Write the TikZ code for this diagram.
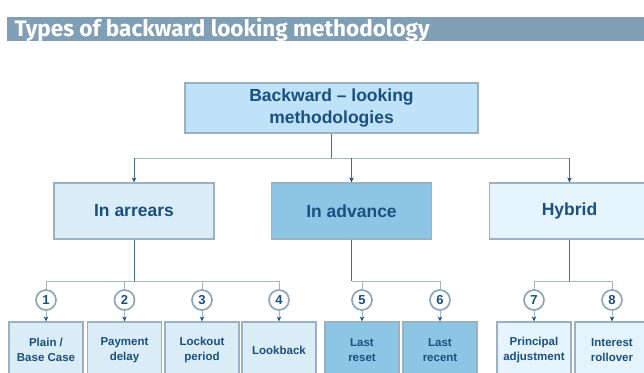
\documentclass[tikz,border=0pt]{standalone}
\usepackage{fontspec}
\setmainfont{Liberation Sans}
\newfontfamily\titlefont{Fira Sans}
\usetikzlibrary{arrows.meta,positioning}

\definecolor{bandgray}{HTML}{809FB4}
\definecolor{boxline}{HTML}{9BB0C1}
\definecolor{textblue}{HTML}{1B4F7E}
\definecolor{topfill}{HTML}{BEE3F8}
\definecolor{arrearsfill}{HTML}{DAEDF7}
\definecolor{advancefill}{HTML}{8DC5E5}
\definecolor{hybridfill}{HTML}{E5F4FC}
\definecolor{trunkline}{HTML}{4C6D8C}
\definecolor{busline}{HTML}{A3B5C4}
\definecolor{circline}{HTML}{8EA6B8}

\begin{document}
\begin{tikzpicture}[
    x = 1pt, y = -1pt,
    box/.style = {rectangle, draw=boxline, line width=1.3pt, text=textblue, align=center, inner sep=0pt},
    mainbox/.style = {box, minimum width=293pt, minimum height=50pt, fill=topfill, font=\fontsize{17.5}{22}\selectfont\bfseries},
    groupbox/.style = {box, minimum width=160pt, minimum height=56pt, font=\fontsize{17.5}{20}\selectfont\bfseries},
    leaf/.style = {box, minimum width=74pt, minimum height=56pt, font=\fontsize{11.5}{14.5}\selectfont\bfseries},
    num/.style = {circle, draw=circline, line width=1.7pt, fill=white, minimum size=20pt, inner sep=0pt, text=textblue, font=\fontsize{13}{13}\selectfont\bfseries},
    trunk/.style = {draw=trunkline, line width=0.9pt},
    bus/.style = {draw=busline, line width=0.9pt},
    tip/.style = {-{Stealth[length=5pt, width=4.5pt, color=textblue]}}
]
    \clip (0,0) rectangle (644,372);

    % Title bar
    \fill[bandgray] (7,17) rectangle (644,41);
    \node[anchor=west, text=white, font=\titlefont\fontsize{22.5}{24}\selectfont\bfseries] (title) at (11,29.5) {Types of backward looking methodology};

    % Root
    \node[mainbox] (top) at (331.5,108) {Backward -- looking\\methodologies};

    % Groups
    \node[groupbox, fill=arrearsfill] (arrears) at (134,211) {In arrears};
    \node[groupbox, fill=advancefill] (advance) at (351.5,211) {In advance};
    \node[groupbox, fill=hybridfill] (hybrid) at (569.5,211) {Hybrid};

    % Numbered markers
    \node[num] (n1) at (46,300) {1};
    \node[num] (n2) at (124.5,300) {2};
    \node[num] (n3) at (202,300) {3};
    \node[num] (n4) at (279,300) {4};
    \node[num] (n5) at (362,300) {5};
    \node[num] (n6) at (440,300) {6};
    \node[num] (n7) at (534,300) {7};
    \node[num] (n8) at (612,300) {8};

    % Leaves
    \node[leaf, fill=arrearsfill] (plain) at (46,350) {Plain /\\Base Case};
    \node[leaf, fill=arrearsfill] (delay) at (124.5,350) {Payment\\delay};
    \node[leaf, fill=arrearsfill] (lockout) at (202,350) {Lockout\\period};
    \node[leaf, fill=arrearsfill] (lookback) at (279,350) {Lookback};
    \node[leaf, fill=advancefill] (lastreset) at (362,350) {Last\\reset};
    \node[leaf, fill=advancefill] (lastrecent) at (440,350) {Last\\recent};
    \node[leaf, fill=hybridfill] (principal) at (534,350) {Principal\\adjustment};
    \node[leaf, fill=hybridfill] (rollover) at (612,350) {Interest\\rollover};

    % Root to groups
    \coordinate (split) at (331.5,158);
    \draw[trunk] (top.south) -- (split);
    \draw[bus] (arrears.north |- split) -- (hybrid.north |- split);
    \draw[trunk, tip] (arrears.north |- split) -- (arrears.north);
    \draw[trunk, tip] (advance.north |- split) -- (advance.north);
    \draw[trunk, tip] (hybrid.north |- split) -- (hybrid.north);

    % Groups to leaves
    \coordinate (busA) at (134,281);
    \coordinate (busB) at (351.5,281);
    \coordinate (busC) at (569.5,281);
    \draw[trunk] (arrears.south) -- (busA);
    \draw[trunk] (advance.south) -- (busB);
    \draw[trunk] (hybrid.south) -- (busC);
    \draw[bus] (n1.north |- busA) -- (n4.north |- busA);
    \draw[bus] (busB) -- (n6.north |- busB);
    \draw[bus] (n7.north |- busC) -- (n8.north |- busC);

    \draw[bus] (n1.north |- busA) -- (n1.north);
    \draw[bus] (n2.north |- busA) -- (n2.north);
    \draw[bus] (n3.north |- busA) -- (n3.north);
    \draw[bus] (n4.north |- busA) -- (n4.north);
    \draw[bus] (n5.north |- busB) -- (n5.north);
    \draw[bus] (n6.north |- busB) -- (n6.north);
    \draw[bus] (n7.north |- busC) -- (n7.north);
    \draw[bus] (n8.north |- busC) -- (n8.north);

    \draw[bus, tip] (n1) -- (plain);
    \draw[bus, tip] (n2) -- (delay);
    \draw[bus, tip] (n3) -- (lockout);
    \draw[bus, tip] (n4) -- (lookback);
    \draw[bus, tip] (n5) -- (lastreset);
    \draw[bus, tip] (n6) -- (lastrecent);
    \draw[bus, tip] (n7) -- (principal);
    \draw[bus, tip] (n8) -- (rollover);
\end{tikzpicture}
\end{document}
